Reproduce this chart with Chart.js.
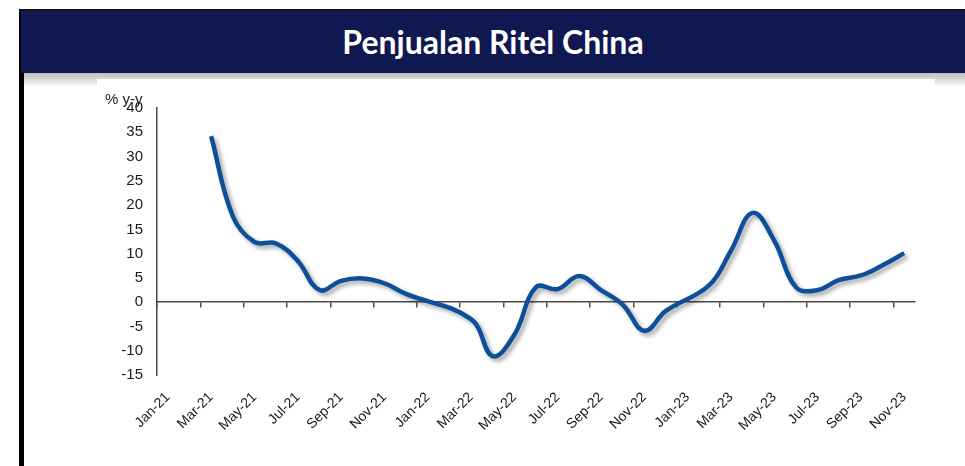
<!DOCTYPE html>
<html>
<head>
    <title>Penjualan Ritel China</title>
    <script src="https://cdn.jsdelivr.net/npm/chart.js"></script>
    <style>
        body {
            margin: 0;
            width: 965px;
            height: 466px;
            background: #ffffff;
            overflow: hidden;
            position: relative;
            font-family: 'Liberation Sans', sans-serif;
        }
        .edge-left {
            position: absolute;
            left: 19px; top: 9px;
            width: 5px; height: 460px;
            background: #000;
        }
        .edge-top {
            position: absolute;
            left: 19px; top: 9px;
            width: 946px; height: 3px;
            background: #111;
            border-top-left-radius: 3px;
        }
        .header {
            position: absolute;
            left: 21px; top: 11px;
            width: 944px; height: 62px;
            background: #101852;
            color: #fff;
            font-family: 'Lato', sans-serif;
            font-weight: bold;
            font-size: 32px;
            line-height: 62px;
            text-align: center;
        }
        .header-shade {
            position: absolute;
            left: 24px; top: 73px;
            width: 941px; height: 14px;
            background: linear-gradient(#bdbdbd, #ffffff);
        }
        .chart-box {
            position: absolute;
            left: 97px; top: 79px;
            width: 838px; height: 387px;
            background: #fff;
        }
        .unit {
            position: absolute;
            left: 105px; top: 90px;
            font-size: 15px;
            color: #222;
        }
    </style>
</head>
<body>
    <div class="edge-left"></div>
    <div class="edge-top"></div>
    <div class="header">Penjualan Ritel China</div>
    <div class="header-shade"></div>
    <div class="chart-box">
        <canvas id="salesChart" width="838" height="387"></canvas>
    </div>
    <div class="unit">% y-y</div>

    <script>
        // monthly retail sales growth, % y-y (null = no monthly print)
        const months = [
            'Jan-21', 'Feb-21', 'Mar-21', 'Apr-21', 'May-21', 'Jun-21',
            'Jul-21', 'Aug-21', 'Sep-21', 'Oct-21', 'Nov-21', 'Dec-21',
            'Jan-22', 'Feb-22', 'Mar-22', 'Apr-22', 'May-22', 'Jun-22',
            'Jul-22', 'Aug-22', 'Sep-22', 'Oct-22', 'Nov-22', 'Dec-22',
            'Jan-23', 'Feb-23', 'Mar-23', 'Apr-23', 'May-23', 'Jun-23',
            'Jul-23', 'Aug-23', 'Sep-23', 'Oct-23', 'Nov-23'
        ];
        const retailSales = [
            null, null, 34.2, 17.7, 12.4, 12.1,
            8.5, 2.5, 4.4, 4.9, 3.9, 1.7,
            null, null, -3.5, -11.1, -6.7, 3.1,
            2.7, 5.4, 2.5, -0.5, -5.9, -1.8,
            null, 3.5, 10.6, 18.4, 12.7, 3.1,
            2.5, 4.6, 5.5, 7.6, 10.1
        ];
        const yMin = -15, yMax = 40, yStep = 5;

        const axisColor = '#4a4a4a';
        const textColor = '#1a1a1a';

        // soft grey drop shadow under the line
        const lineShadow = {
            id: 'lineShadow',
            beforeDatasetsDraw(chart) {
                const ctx = chart.ctx;
                ctx.save();
                ctx.shadowColor = 'rgba(0,0,0,0.35)';
                ctx.shadowBlur = 4;
                ctx.shadowOffsetX = 3;
                ctx.shadowOffsetY = 3;
            },
            afterDatasetsDraw(chart) {
                chart.ctx.restore();
            }
        };

        new Chart(document.getElementById('salesChart'), {
            type: 'line',
            data: {
                labels: months,
                datasets: [{
                    data: retailSales,
                    borderColor: '#0d4f9a',
                    borderWidth: 4.5,
                    pointRadius: 0,
                    tension: 0.4,
                    spanGaps: true,
                    xAxisID: 'x'
                }]
            },
            options: {
                responsive: false,
                animation: false,
                layout: {padding: {top: 29, right: 20, left: 0, bottom: 0}},
                plugins: {
                    legend: {display: false},
                    tooltip: {enabled: false}
                },
                scales: {
                    // axis line crossing at zero, tick marks every 2 months
                    x: {
                        type: 'category',
                        position: {y: 0},
                        offset: true,
                        border: {display: true, color: axisColor, width: 1.5},
                        grid: {
                            offset: true,
                            drawOnChartArea: false,
                            drawTicks: true,
                            tickLength: 5,
                            lineWidth: 1.5,
                            color: c => c.index % 2 === 0 ? axisColor : 'transparent'
                        },
                        ticks: {display: false, autoSkip: false}
                    },
                    // month labels at the bottom
                    x2: {
                        type: 'category',
                        position: 'bottom',
                        offset: true,
                        border: {display: false},
                        grid: {display: false},
                        afterFit: s => { s.height = 91; },
                        ticks: {
                            autoSkip: false,
                            minRotation: 45,
                            maxRotation: 45,
                            padding: 6,
                            color: textColor,
                            font: {family: 'Liberation Sans', size: 14},
                            callback: (v, i) => i % 2 === 0 ? months[i] : null
                        }
                    },
                    y: {
                        min: yMin,
                        max: yMax,
                        afterFit: s => { s.width = 60; },
                        border: {display: true, color: axisColor, width: 1.5},
                        grid: {display: false, drawTicks: false},
                        ticks: {
                            stepSize: yStep,
                            padding: 14,
                            color: textColor,
                            font: {family: 'Liberation Sans', size: 15}
                        }
                    }
                }
            },
            plugins: [lineShadow]
        });
    </script>
</body>
</html>
